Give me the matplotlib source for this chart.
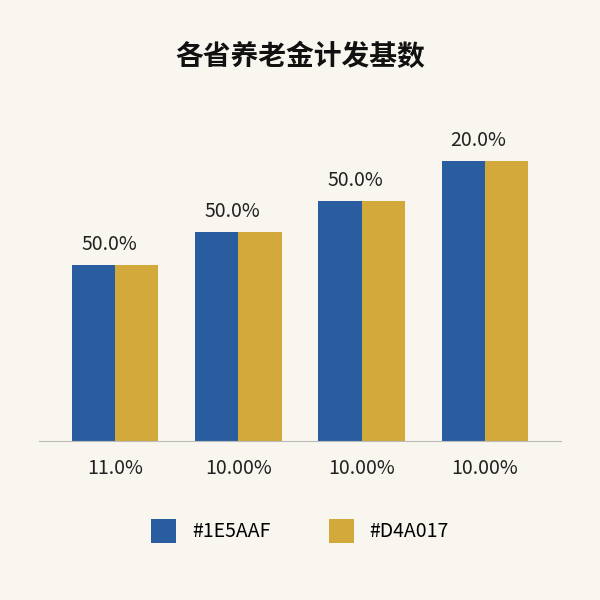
import matplotlib
matplotlib.use("Agg")
import matplotlib.pyplot as plt
import numpy as np

plt.rcParams['font.family'] = ['Noto Sans CJK SC', 'DejaVu Sans']

title = "各省养老金计发基数"
categories = ["11.0%", "10.00%", "10.00%", "10.00%"]
top_labels = ["50.0%", "50.0%", "50.0%", "20.0%"]
blue_vals = [176, 209, 240, 280]
gold_vals = [176, 209, 240, 280]
series_names = ["#1E5AAF", "#D4A017"]
colors = ["#2A5D9F", "#D2A93A"]
bg = "#F8F6EE"

fig = plt.figure(figsize=(6, 6), dpi=100, facecolor=bg)
ax = fig.add_axes([0.065, 0.265, 0.87, 0.5])
ax.set_facecolor(bg)
x = np.arange(len(categories))
w = 0.35
ax.bar(x - w/2, blue_vals, w, color=colors[0], label=series_names[0])
ax.bar(x + w/2, gold_vals, w, color=colors[1], label=series_names[1])
for xi, v, t in zip(x, blue_vals, top_labels):
    ax.text(xi - 0.05, v + 10, t, ha="center", va="bottom", fontsize=14, color="#222")
ax.set_xlim(-0.62, 3.62)
ax.set_ylim(0, 300)
ax.set_xticks(x)
ax.set_xticklabels(categories, fontsize=14, color="#222")
ax.tick_params(length=0, pad=12)
ax.set_yticks([])
for s in ["top", "right", "left"]:
    ax.spines[s].set_visible(False)
ax.spines["bottom"].set_color("#bbbbbb")
fig.text(0.5, 0.905, title, ha="center", va="center", fontsize=20, fontweight="bold", color="#111")
fig.legend(loc="center", bbox_to_anchor=(0.5, 0.115), ncol=2, frameon=False,
           fontsize=14, handlelength=1.3, handleheight=1.5, columnspacing=3)
fig.savefig("out.png", facecolor=bg)
